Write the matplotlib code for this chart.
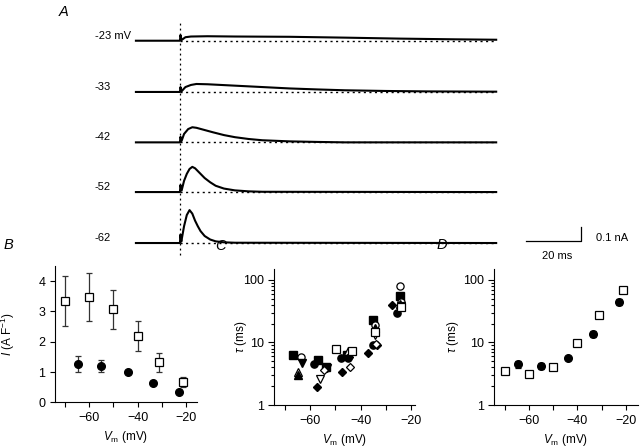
import numpy as np
import matplotlib
matplotlib.use("Agg")
import matplotlib.pyplot as plt
from matplotlib.ticker import FixedLocator, NullFormatter

plt.rcParams['font.family'] = ['Liberation Sans', 'DejaVu Sans']
plt.rcParams['mathtext.fontset'] = 'custom'
plt.rcParams['mathtext.rm'] = 'Liberation Sans'
plt.rcParams['mathtext.it'] = 'Liberation Sans:italic'
plt.rcParams['axes.linewidth'] = 0.8

# ---- panel A: current traces (t in ms from step onset, I in nA above baseline)
trace_labels = ['-23 mV', '-33', '-42', '-52', '-62']
trace_offsets = [1.602, 1.236, 0.876, 0.521, 0.157]
t_23 = [-16, 0, 0.2, 0.6, 2, 4, 10, 20, 40, 60, 80, 100, 115]
i_23 = [0, 0, 0.04, 0.005, 0.025, 0.03, 0.032, 0.03, 0.028, 0.022, 0.015, 0.01, 0.007]
t_33 = [-16, 0, 0.2, 0.6, 2, 4, 6, 10, 15, 20, 30, 40, 50, 60, 75, 90, 115]
i_33 = [0, 0, 0.035, 0.005, 0.035, 0.05, 0.057, 0.055, 0.05, 0.045, 0.035, 0.025, 0.018,
        0.012, 0.007, 0.004, 0.002]
t_42 = [-16, 0, 0.2, 0.6, 1.5, 3, 4.5, 6, 9, 12, 16, 20, 25, 30, 40, 50, 60, 115]
i_42 = [0, 0, 0.04, 0.01, 0.06, 0.095, 0.108, 0.104, 0.088, 0.072, 0.052, 0.037, 0.024,
        0.015, 0.007, 0.003, 0.0, 0.0]
t_52 = [-16, 0, 0.2, 0.6, 1.5, 2.5, 3.5, 4.5, 5.5, 7, 9, 11, 13, 16, 20, 25, 30, 115]
i_52 = [0, 0, 0.05, 0.01, 0.08, 0.13, 0.165, 0.18, 0.17, 0.14, 0.10, 0.07, 0.045, 0.025,
        0.012, 0.005, 0.002, 0.0]
t_62 = [-16, 0, 0.2, 0.5, 1.5, 2.5, 3.5, 4.5, 5.5, 6.5, 7.5, 9, 11, 13, 16, 20, 115]
i_62 = [0, 0, 0.06, 0.01, 0.12, 0.20, 0.235, 0.21, 0.16, 0.12, 0.085, 0.05, 0.025, 0.012,
        0.005, 0.002, 0.0]
trace_t = [t_23, t_33, t_42, t_52, t_62]
trace_i = [i_23, i_33, i_42, i_52, i_62]

# ---- panel B: current density vs Vm
b_sq_v = [-70, -60, -50, -40, -31, -21]
b_sq_i = [3.34, 3.47, 3.07, 2.19, 1.32, 0.68]
b_sq_err = [0.82, 0.80, 0.65, 0.48, 0.31, 0.17]
b_ci_v = [-64.5, -55, -44, -33.5, -23]
b_ci_i = [1.27, 1.20, 1.01, 0.63, 0.35]
b_ci_err = [0.27, 0.20, 0.07, 0.03, 0.02]

# ---- panel C: tau vs Vm, individual cells
c_fsq_v = [-66.6, -57.0, -53.8, -45.5, -35.0, -24.7]
c_fsq_t = [6.3, 5.3, 4.1, 6.3, 22.9, 55]
c_oci_v = [-63.6, -34.3, -24.7, -24.2]
c_oci_t = [5.9, 19, 80, 45]
c_fdt_v = [-63.3, -53.5]
c_fdt_t = [4.75, 3.9]
c_out_v = [-64.6, -45.1]
c_out_t = [3.4, 7.4]
c_fut_v = [-64.6, -34.5, -24.5]
c_fut_t = [3.0, 16.9, 42]
c_fci_v = [-58.3, -47.8, -45.0, -35.3, -25.8]
c_fci_t = [4.6, 5.65, 5.7, 9.0, 30]
c_fdi_v = [-57.4, -47.5, -44.6, -37.0, -33.7, -27.8]
c_fdi_t = [1.96, 3.4, 5.8, 6.9, 9.1, 40]
c_odt_v = [-56.1, -34.3, -24.3]
c_odt_t = [2.6, 13.2, 38]
c_odi_v = [-54.3, -44.2, -34.0]
c_odi_t = [3.6, 4.1, 9.5]
c_osq_v = [-49.7, -43.6, -34.5, -24.1]
c_osq_t = [7.8, 7.2, 14.8, 36.6]

# ---- panel D: tau vs Vm, means
d_sq_v = [-70, -60, -50, -40, -31, -21]
d_sq_t = [3.54, 3.1, 4.1, 9.9, 27.2, 69.2]
d_ci_v = [-64.5, -55, -44, -33.5, -23]
d_ci_t = [4.53, 4.2, 5.6, 13.7, 44.5]
d_ci_err = [0.6, 0.5, 0.2, 1.6, 5.0]

W, H = 641, 448
fig = plt.figure(figsize=(W / 100, H / 100), dpi=100)


def px_axes(left, top, right, bottom):
    return fig.add_axes([left / W, (H - bottom) / H, (right - left) / W, (bottom - top) / H])


# panel A
axA = px_axes(90, 15, 640, 265)
axA.set_xlim(-32.7, 167.3)
axA.set_ylim(0, 250 / 140)
axA.axis('off')
for lab, off, tt, ii in zip(trace_labels, trace_offsets, trace_t, trace_i):
    axA.plot(tt, np.array(ii) + off, color='black', lw=1.5)
    axA.plot([0, 115], [off, off], color='black', lw=1.0, ls=(0, (1.5, 2.5)))
    axA.text(-31, off + 0.035, lab, fontsize=8, ha='left', va='center')
axA.plot([0, 0], [0.07, 1.75], color='black', lw=0.9, ls=(0, (1.5, 2.5)))
# scale bar: 20 ms, 0.1 nA
axA.plot([125.8, 145.8, 145.8], [0.171, 0.171, 0.271], color='black', lw=0.9)
axA.text(151.3, 0.19, '0.1 nA', fontsize=8, ha='left', va='center')
axA.text(137, 0.065, '20 ms', fontsize=8, ha='center', va='center')
fig.text(64 / W, 1 - 12 / H, 'A', fontsize=10.5, style='italic', ha='center', va='center')


def style_axes(ax, xlim):
    for s in ['top', 'right']:
        ax.spines[s].set_visible(False)
    ax.set_xlim(*xlim)
    ax.xaxis.set_major_locator(FixedLocator([-60, -40, -20]))
    ax.xaxis.set_minor_locator(FixedLocator([-70, -50, -30]))
    ax.tick_params(axis='both', which='both', direction='out', labelsize=9, width=0.8)
    ax.tick_params(axis='x', which='both', length=3.5)
    ax.set_xlabel(r'$V_\mathrm{m}$ (mV)', fontsize=8.5, labelpad=3.5)


# panel B
axB = px_axes(55, 266, 197, 402.3)
style_axes(axB, (-74.2, -15.4))
axB.set_ylim(0, 4.5)
axB.set_yticks([0, 1, 2, 3, 4])
axB.tick_params(axis='y', length=3.5)
axB.errorbar(b_sq_v, b_sq_i, yerr=b_sq_err, fmt='s', ms=6, mfc='white', mec='black',
             mew=0.9, ecolor='#333333', elinewidth=0.9, capsize=2.5, capthick=0.9, zorder=3)
axB.errorbar(b_ci_v, b_ci_i, yerr=b_ci_err, fmt='o', ms=5.5, mfc='black', mec='black',
             ecolor='#333333', elinewidth=0.9, capsize=2.5, capthick=0.9, zorder=3)
axB.set_ylabel(r'$I$ (A F$^{-1}$)', fontsize=8.5)
axB.yaxis.set_label_coords(-0.265, 0.5)
fig.text(8 / W, 1 - 245 / H, 'B', fontsize=10.5, style='italic', ha='center', va='center')


def style_log(ax, xlab):
    ax.set_yscale('log')
    ax.set_ylim(1, 148)
    ax.set_yticks([1, 10, 100])
    ax.set_yticklabels(['1', '10', '100'])
    ax.yaxis.set_minor_formatter(NullFormatter())
    ax.tick_params(axis='y', which='major', length=4)
    ax.tick_params(axis='y', which='minor', length=2.2)
    ax.set_ylabel(r'$\tau$ (ms)', fontsize=8.5)
    ax.yaxis.set_label_coords(xlab, 0.5)


# panel C
axC = px_axes(274.3, 269.3, 415, 405)
style_axes(axC, (-74.1, -18.6))
style_log(axC, -0.18)
ms = 5.2
axC.plot(c_fsq_v, c_fsq_t, 's', ms=ms, color='black', ls='none')
axC.plot(c_oci_v, c_oci_t, 'o', ms=ms, mfc='white', mec='black', mew=0.9, ls='none')
axC.plot(c_fdt_v, c_fdt_t, 'v', ms=ms, color='black', ls='none')
axC.plot(c_out_v, c_out_t, '^', ms=ms, mfc='white', mec='black', mew=0.9, ls='none')
axC.plot(c_fut_v, c_fut_t, '^', ms=ms, color='black', ls='none')
axC.plot(c_fci_v, c_fci_t, 'o', ms=ms, color='black', ls='none')
axC.plot(c_fdi_v, c_fdi_t, 'D', ms=ms - 0.8, color='black', ls='none')
axC.plot(c_odt_v, c_odt_t, 'v', ms=ms, mfc='white', mec='black', mew=0.9, ls='none')
axC.plot(c_odi_v, c_odi_t, 'D', ms=ms - 0.8, mfc='white', mec='black', mew=0.9, ls='none')
axC.plot(c_osq_v, c_osq_t, 's', ms=ms, mfc='white', mec='black', mew=0.9, ls='none')
fig.text(220 / W, 1 - 246 / H, 'C', fontsize=10.5, style='italic', ha='center', va='center')

# panel D
axD = px_axes(494, 269.3, 638, 405)
style_axes(axD, (-74.5, -15))
style_log(axD, -0.23)
axD.plot(d_sq_v, d_sq_t, 's', ms=5.5, mfc='white', mec='black', mew=0.9, ls='none')
axD.errorbar(d_ci_v, d_ci_t, yerr=d_ci_err, fmt='o', ms=5.5, mfc='black', mec='black',
             ecolor='black', elinewidth=0.9, capsize=2.5, capthick=0.9)
fig.text(442 / W, 1 - 245 / H, 'D', fontsize=10.5, style='italic', ha='center', va='center')

fig.savefig('out.png', dpi=100)
